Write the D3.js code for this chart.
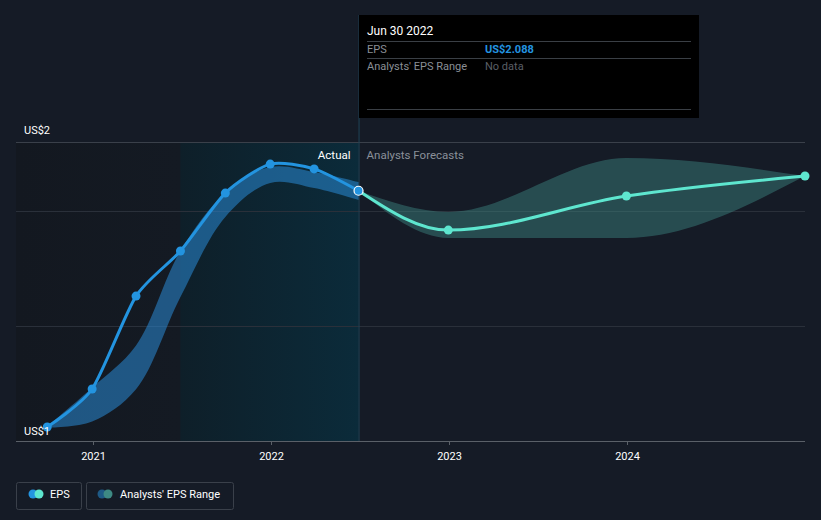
<!DOCTYPE html>
<html><head><meta charset="utf-8">
<script src="https://cdnjs.cloudflare.com/ajax/libs/d3/7.8.5/d3.min.js"></script>
<style>
body{margin:0;background:#151b26;}
svg{display:block;font-family:Roboto,"Noto Sans",sans-serif;}
</style></head><body>
<svg id="c" width="821" height="520"></svg>
<script>
// ---- data ----
const actualDates = ["2020-09-30","2020-12-31","2021-03-31","2021-06-30","2021-09-30","2021-12-31","2022-03-31","2022-06-30"];
const actualEps   = [1.061, 1.226, 1.630, 1.826, 2.078, 2.204, 2.183, 2.088];
const pastRangeLow  = [1.058, 1.085, 1.225, 1.626, 1.974, 2.122, 2.100, 2.048];
const pastRangeHigh = [1.064, 1.232, 1.415, 1.826, 2.078, 2.191, 2.170, 2.126];
const forecastDates = ["2022-06-30","2022-12-31","2023-12-31","2024-12-31"];
const forecastEps   = [2.088, 1.917, 2.065, 2.152];
const forecastLow   = [2.088, 1.883, 1.883, 2.152];
const forecastHigh  = [2.088, 1.996, 2.230, 2.152];
const xTickLabels = ["2021","2022","2023","2024"];
const yTickValues = [1, 2];
const yTickLabels = ["US$1","US$2"];
const gridValues = [1.5, 2.0];
const tooltipDate = "Jun 30 2022";
const tooltipEps = "US$2.088";

const parse = d3.timeParse("%Y-%m-%d");
const svg = d3.select("#c");
const pLeft = 16, pRight = 805, pTop = 142, pBottom = 441;

const x = d3.scaleTime().domain([parse("2020-07-28"), parse("2024-12-31")]).range([pLeft, pRight]);
const y = d3.scaleLinear().domain([1, 2.3]).range([pBottom, pTop]);

const defs = svg.append("defs");
const g1 = defs.append("linearGradient").attr("id","pastBg").attr("x1",0).attr("x2",1).attr("y1",0).attr("y2",0);
g1.append("stop").attr("offset","0%").attr("stop-color","#131820");
g1.append("stop").attr("offset","100%").attr("stop-color","#141a23");
const g2 = defs.append("linearGradient").attr("id","hiBg").attr("x1",0).attr("x2",1).attr("y1",0).attr("y2",0);
g2.append("stop").attr("offset","0%").attr("stop-color","#0e1f29");
g2.append("stop").attr("offset","100%").attr("stop-color","#0b2b3a");

const nowDate = parse("2022-06-30");
const hiStart = parse("2021-06-30");
svg.append("rect").attr("x", pLeft).attr("y", pTop).attr("width", x(hiStart)-pLeft).attr("height", pBottom-pTop).attr("fill","url(#pastBg)");
svg.append("rect").attr("x", x(hiStart)).attr("y", pTop).attr("width", x(nowDate)-x(hiStart)).attr("height", pBottom-pTop).attr("fill","url(#hiBg)");

svg.append("line").attr("x1",pLeft).attr("x2",pRight).attr("y1",pTop+0.5).attr("y2",pTop+0.5).attr("stroke","#3a404a").attr("stroke-width",1);
gridValues.forEach(v=>{
  svg.append("line").attr("x1",pLeft).attr("x2",pRight).attr("y1",Math.round(y(v))+0.5).attr("y2",Math.round(y(v))+0.5).attr("stroke","#2a303a").attr("stroke-width",1);
});

svg.append("line").attr("x1",x(nowDate)+0.5).attr("x2",x(nowDate)+0.5).attr("y1",15).attr("y2",pBottom).attr("stroke","#1f4456").attr("stroke-width",1);

const pastBand = actualDates.map((d,i)=>({d:parse(d), lo:pastRangeLow[i], hi:pastRangeHigh[i]}));
const fBand = forecastDates.map((d,i)=>({d:parse(d), lo:forecastLow[i], hi:forecastHigh[i]}));
const pastArea = d3.area().x(d=>x(d.d)).y0(d=>y(d.lo)).y1(d=>y(d.hi)).curve(d3.curveCatmullRom.alpha(0.5));
const area = d3.area().x(d=>x(d.d)).y0(d=>y(d.lo)).y1(d=>y(d.hi)).curve(d3.curveMonotoneX);
svg.append("path").datum(pastBand).attr("d", pastArea).attr("fill","#2a8ad6").attr("fill-opacity",0.55);
svg.append("path").datum(fBand).attr("d", area).attr("fill","#3e8a84").attr("fill-opacity",0.45);

const aData = actualDates.map((d,i)=>({d:parse(d), v:actualEps[i]}));
const fData = forecastDates.map((d,i)=>({d:parse(d), v:forecastEps[i]}));
const line = d3.line().x(d=>x(d.d)).y(d=>y(d.v)).curve(d3.curveCardinal.tension(0.3));
svg.append("path").datum(fData).attr("d", d3.line().x(d=>x(d.d)).y(d=>y(d.v)).curve(d3.curveMonotoneX)).attr("fill","none").attr("stroke","#5ee6cf").attr("stroke-width",3);
svg.append("path").datum(aData).attr("d", line).attr("fill","none").attr("stroke","#2394e0").attr("stroke-width",3);

svg.selectAll(".ap").data(aData.slice(0,-1)).enter().append("circle").attr("cx",d=>x(d.d)).attr("cy",d=>y(d.v)).attr("r",4.5).attr("fill","#2394e0");
svg.selectAll(".fp").data(fData.slice(1)).enter().append("circle").attr("cx",d=>x(d.d)).attr("cy",d=>y(d.v)).attr("r",4.5).attr("fill","#5ee6cf");
const last = aData[aData.length-1];
svg.append("circle").attr("cx",x(last.d)).attr("cy",y(last.v)).attr("r",4.5).attr("fill","#2394e0").attr("stroke","#ffffff").attr("stroke-width",1.2);

svg.append("text").attr("x",x(nowDate)-8).attr("y",159).attr("text-anchor","end").attr("fill","#ffffff").attr("font-size",11.5).text("Actual");
svg.append("text").attr("x",x(nowDate)+8).attr("y",159).attr("fill","#8a9099").attr("font-size",11.5).text("Analysts Forecasts");

svg.append("line").attr("x1",pLeft).attr("x2",pRight).attr("y1",pBottom+0.5).attr("y2",pBottom+0.5).attr("stroke","#5a6068").attr("stroke-width",1);
xTickLabels.forEach(t=>{
  const xv = Math.round(x(parse(t+"-01-01")))+0.5;
  svg.append("line").attr("x1",xv).attr("x2",xv).attr("y1",pBottom).attr("y2",pBottom+4).attr("stroke","#5a6068");
  svg.append("text").attr("x",xv).attr("y",pBottom+19).attr("text-anchor","middle").attr("fill","#ffffff").attr("font-size",11).text(t);
});

yTickValues.forEach((v,i)=>{
  const yy = v===1 ? y(v)-6 : pTop-8;
  svg.append("text").attr("x",24).attr("y",yy).attr("fill","#ffffff").attr("font-size",11).text(yTickLabels[i]);
});

const tt = svg.append("g").attr("transform","translate(359,15)");
tt.append("rect").attr("width",340).attr("height",103).attr("fill","#000000");
tt.append("text").attr("x",8).attr("y",20).attr("fill","#ffffff").attr("font-size",12).text(tooltipDate);
tt.append("line").attr("x1",8).attr("x2",332).attr("y1",26.5).attr("y2",26.5).attr("stroke","#3a3f45");
tt.append("text").attr("x",8).attr("y",38).attr("fill","#8a8f96").attr("font-size",11).text("EPS");
tt.append("text").attr("x",126).attr("y",38).attr("fill","#2394e0").attr("font-size",11).attr("font-weight","bold").text(tooltipEps);
tt.append("line").attr("x1",8).attr("x2",332).attr("y1",43.5).attr("y2",43.5).attr("stroke","#3a3f45");
tt.append("text").attr("x",8).attr("y",55).attr("fill","#8a8f96").attr("font-size",11).text("Analysts' EPS Range");
tt.append("text").attr("x",126).attr("y",55).attr("fill","#5a5f66").attr("font-size",11).text("No data");
tt.append("line").attr("x1",8).attr("x2",332).attr("y1",94.5).attr("y2",94.5).attr("stroke","#3a3f45");

const lg = svg.append("g");
lg.append("rect").attr("x",16.5).attr("y",482.5).attr("width",65).attr("height",27).attr("rx",2).attr("fill","none").attr("stroke","#3a404a");
lg.append("circle").attr("cx",33).attr("cy",494).attr("r",4.5).attr("fill","#2394e0");
lg.append("circle").attr("cx",39).attr("cy",494).attr("r",4.5).attr("fill","#5ee6cf");
lg.append("text").attr("x",50).attr("y",498).attr("fill","#ffffff").attr("font-size",11).text("EPS");
lg.append("rect").attr("x",86.5).attr("y",482.5).attr("width",147).attr("height",27).attr("rx",2).attr("fill","none").attr("stroke","#3a404a");
lg.append("circle").attr("cx",102).attr("cy",494).attr("r",4.5).attr("fill","#1e5a86");
lg.append("circle").attr("cx",108).attr("cy",494).attr("r",4.5).attr("fill","#3e8a84");
lg.append("text").attr("x",120).attr("y",498).attr("fill","#ffffff").attr("font-size",11).text("Analysts' EPS Range");
</script></body></html>
